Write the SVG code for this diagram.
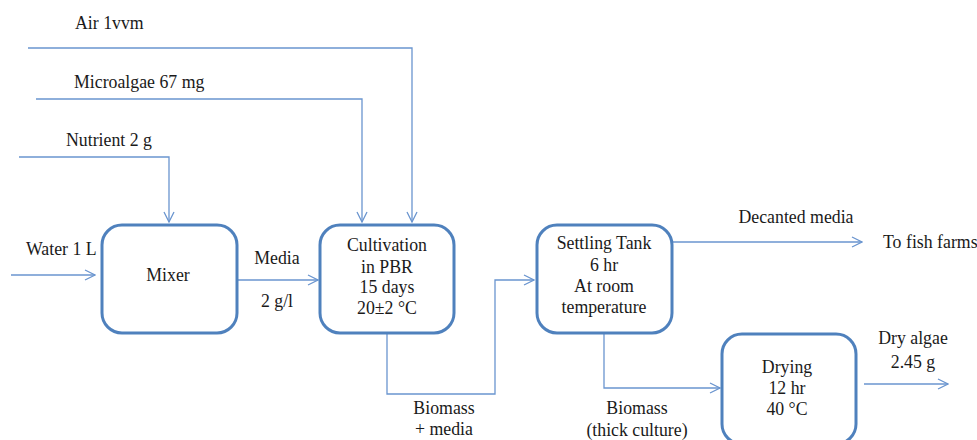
<svg xmlns="http://www.w3.org/2000/svg" width="977" height="440" viewBox="0 0 977 440">
<style>
text{font-family:"Liberation Serif","Times New Roman",serif;font-size:17.8px;fill:#1a1a1a;text-anchor:middle}
.l{text-anchor:start}
.box{fill:#fff;stroke:#4f81bd;stroke-width:3}
.c{fill:none;stroke:#6a95cf;stroke-width:1.3}
</style>
<defs>
<marker id="a" viewBox="0 0 12 12" refX="11" refY="6" markerWidth="12" markerHeight="12" markerUnits="userSpaceOnUse" orient="auto">
<path d="M1,1 L11,6 L1,11" fill="none" stroke="#6a95cf" stroke-width="1.3"/>
</marker>
</defs>
<rect width="977" height="440" fill="#fff"/>
<g id="connectors">
<path class="c" d="M28,48 H412 V222" marker-end="url(#a)"/>
<path class="c" d="M36,99 H362 V222" marker-end="url(#a)"/>
<path class="c" d="M19,157 H169 V222" marker-end="url(#a)"/>
<path class="c" d="M11,275 H95" marker-end="url(#a)"/>
<path class="c" d="M237,280 H318" marker-end="url(#a)"/>
<path class="c" d="M387,333 V394 H495 V280 H534" marker-end="url(#a)"/>
<path class="c" d="M672,242 H862" marker-end="url(#a)"/>
<path class="c" d="M604,333 V388 H720" marker-end="url(#a)"/>
<path class="c" d="M864,384 H948" marker-end="url(#a)"/>
</g>
<g id="labels">
<text class="l" x="75" y="29">Air 1vvm</text>
<text class="l" x="74" y="88">Microalgae 67 mg</text>
<text class="l" x="66" y="146">Nutrient 2 g</text>
<text class="l" x="26" y="255">Water 1 L</text>
<text x="277" y="264">Media</text>
<text x="277" y="307">2 g/l</text>
<text x="444" y="414">Biomass</text>
<text x="444" y="435">+ media</text>
<text x="796" y="223">Decanted media</text>
<text class="l" x="883" y="248">To fish farms</text>
<text x="637" y="414">Biomass</text>
<text x="637" y="436">(thick culture)</text>
<text x="913" y="344">Dry algae</text>
<text x="913" y="368">2.45 g</text>
</g>
<g id="mixer">
<rect class="box" x="102" y="225" width="135" height="108" rx="20"/>
<text x="168" y="281">Mixer</text>
</g>
<g id="cultivation">
<rect class="box" x="320" y="225" width="134" height="108" rx="20"/>
<text x="387" y="251">Cultivation</text>
<text x="387" y="273">in PBR</text>
<text x="387" y="293">15 days</text>
<text x="387" y="314">20±2 °C</text>
</g>
<g id="settling">
<rect class="box" x="537" y="225" width="135" height="108" rx="20"/>
<text x="604" y="249">Settling Tank</text>
<text x="604" y="271">6 hr</text>
<text x="604" y="292">At room</text>
<text x="604" y="313">temperature</text>
</g>
<g id="drying">
<rect class="box" x="722" y="334" width="134" height="110" rx="20"/>
<text x="787" y="373">Drying</text>
<text x="787" y="394">12 hr</text>
<text x="787" y="415">40 °C</text>
</g>
</svg>
